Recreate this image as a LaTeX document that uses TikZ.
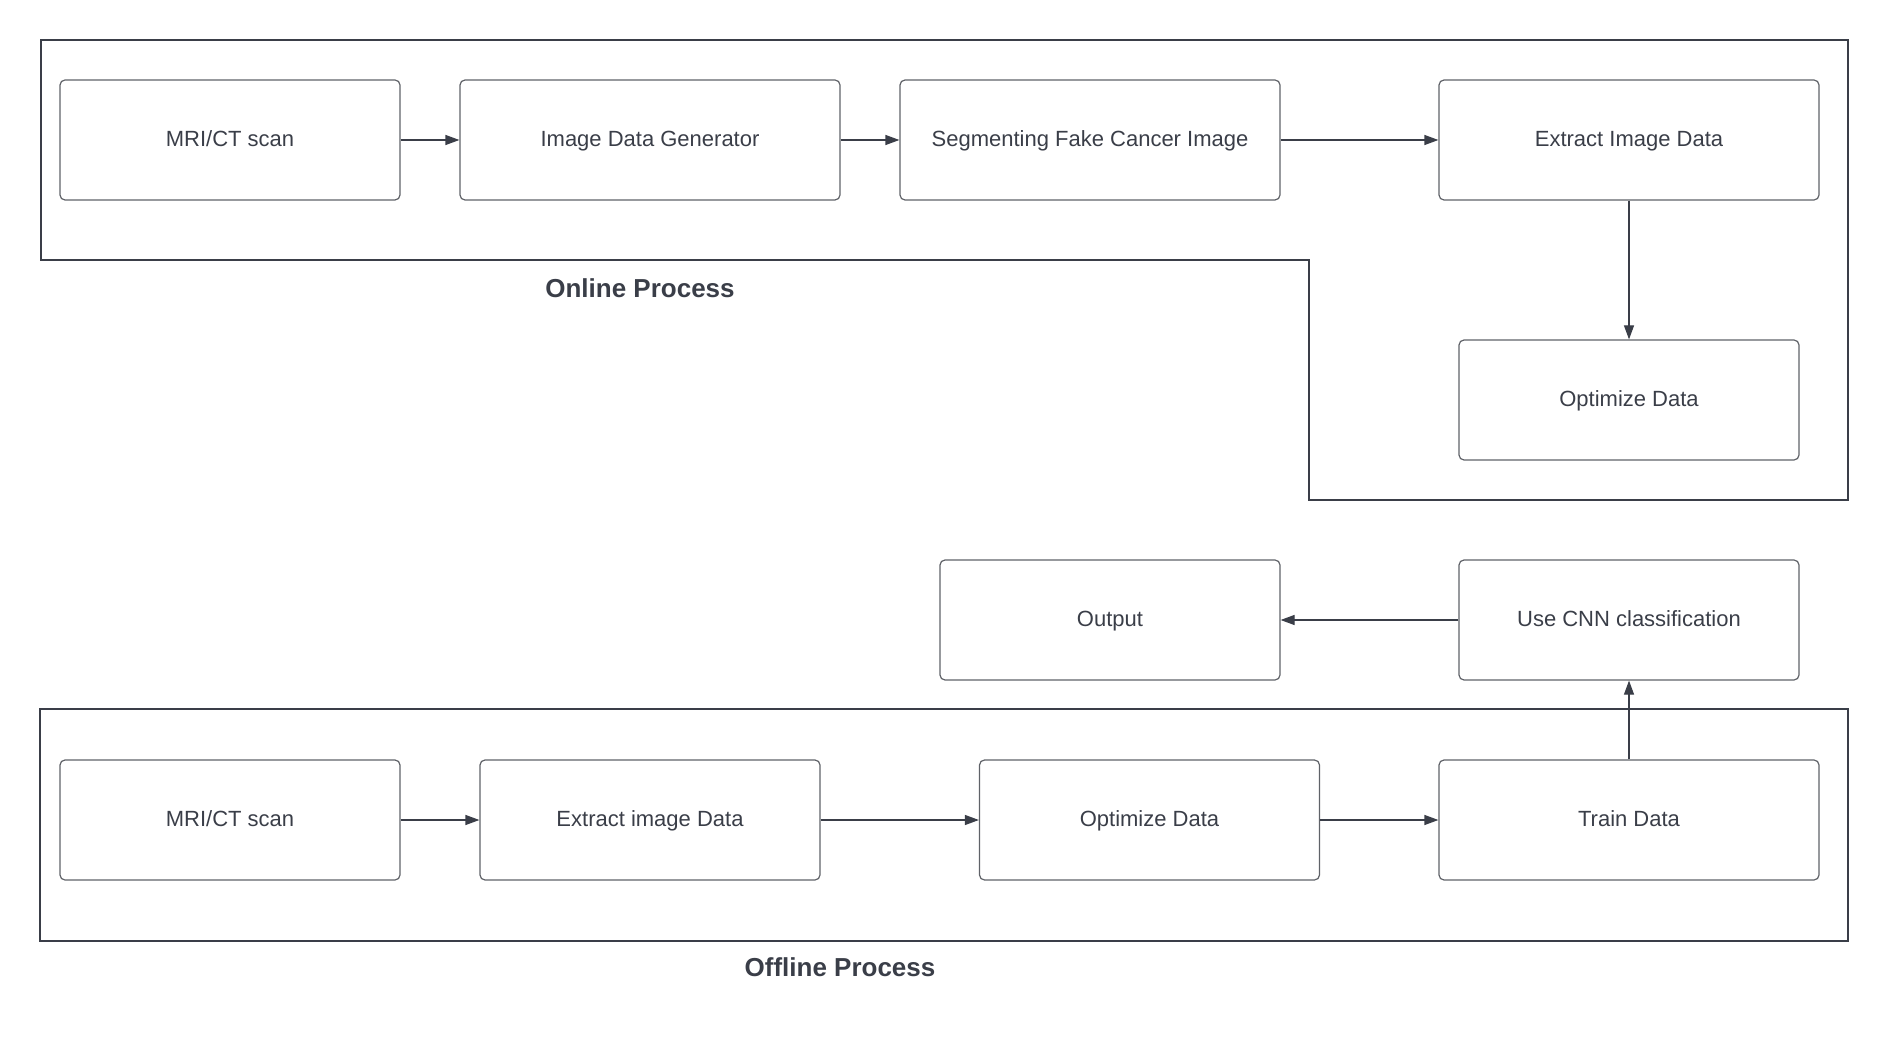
\documentclass[tikz,border=0pt]{standalone}
\usepackage{fontspec}
\setmainfont{Liberation Sans}
\usetikzlibrary{arrows.meta}
\definecolor{ink}{RGB}{58,62,72}
\definecolor{edge}{RGB}{95,98,104}
\tikzset{
  procbox/.style={draw=edge, line width=1.2pt, rounded corners=5pt, inner sep=0pt,
    minimum height=120pt, text height=16pt, text depth=3pt, text=ink, font=\fontsize{22}{26}\selectfont},
  frameline/.style={draw=ink, line width=1.6pt},
  conn/.style={draw=ink, line width=1.2pt, -{Triangle[length=14pt,width=10pt]}},
  caption/.style={text=ink, font=\bfseries\fontsize{26}{30}\selectfont}
}
\begin{document}
\begin{tikzpicture}[x=1pt,y=-1pt]
\useasboundingbox (0,0) rectangle (1891,1040);
% frames
\draw[frameline] (41,40) -- (1848,40) -- (1848,500) -- (1309,500) -- (1309,260) -- (41,260) -- cycle;
\draw[frameline] (40,709) rectangle (1848,941);
% online row
\node[procbox, minimum width=340pt] (mri1) at (230,140) {MRI/CT scan};
\node[procbox, minimum width=380pt] (idg) at (650,140) {Image Data Generator};
\node[procbox, minimum width=380pt] (seg) at (1090,140) {Segmenting Fake Cancer Image};
\node[procbox, minimum width=380pt] (ext1) at (1629,140) {Extract Image Data};
\node[procbox, minimum width=340pt] (opt1) at (1629,400) {Optimize Data};
% middle
\node[procbox, minimum width=340pt] (out) at (1110,620) {Output};
\node[procbox, minimum width=340pt] (cnn) at (1629,620) {Use CNN classification};
% offline row
\node[procbox, minimum width=340pt] (mri2) at (230,820) {MRI/CT scan};
\node[procbox, minimum width=340pt] (ext2) at (650,820) {Extract image Data};
\node[procbox, minimum width=340pt] (opt2) at (1149.5,820) {Optimize Data};
\node[procbox, minimum width=380pt] (train) at (1629,820) {Train Data};
% captions
\node[caption] (onl) at (640,288) {Online Process};
\node[caption] (offl) at (840,967) {Offline Process};
% connectors
\draw[conn] (mri1.east) -- (idg.west);
\draw[conn] (idg.east) -- (seg.west);
\draw[conn] (seg.east) -- (ext1.west);
\draw[conn] (ext1.south) -- (opt1.north);
\draw[conn] (mri2.east) -- (ext2.west);
\draw[conn] (ext2.east) -- (opt2.west);
\draw[conn] (opt2.east) -- (train.west);
\draw[conn] (train.north) -- (cnn.south);
\draw[conn] (cnn.west) -- (out.east);
\end{tikzpicture}
\end{document}
